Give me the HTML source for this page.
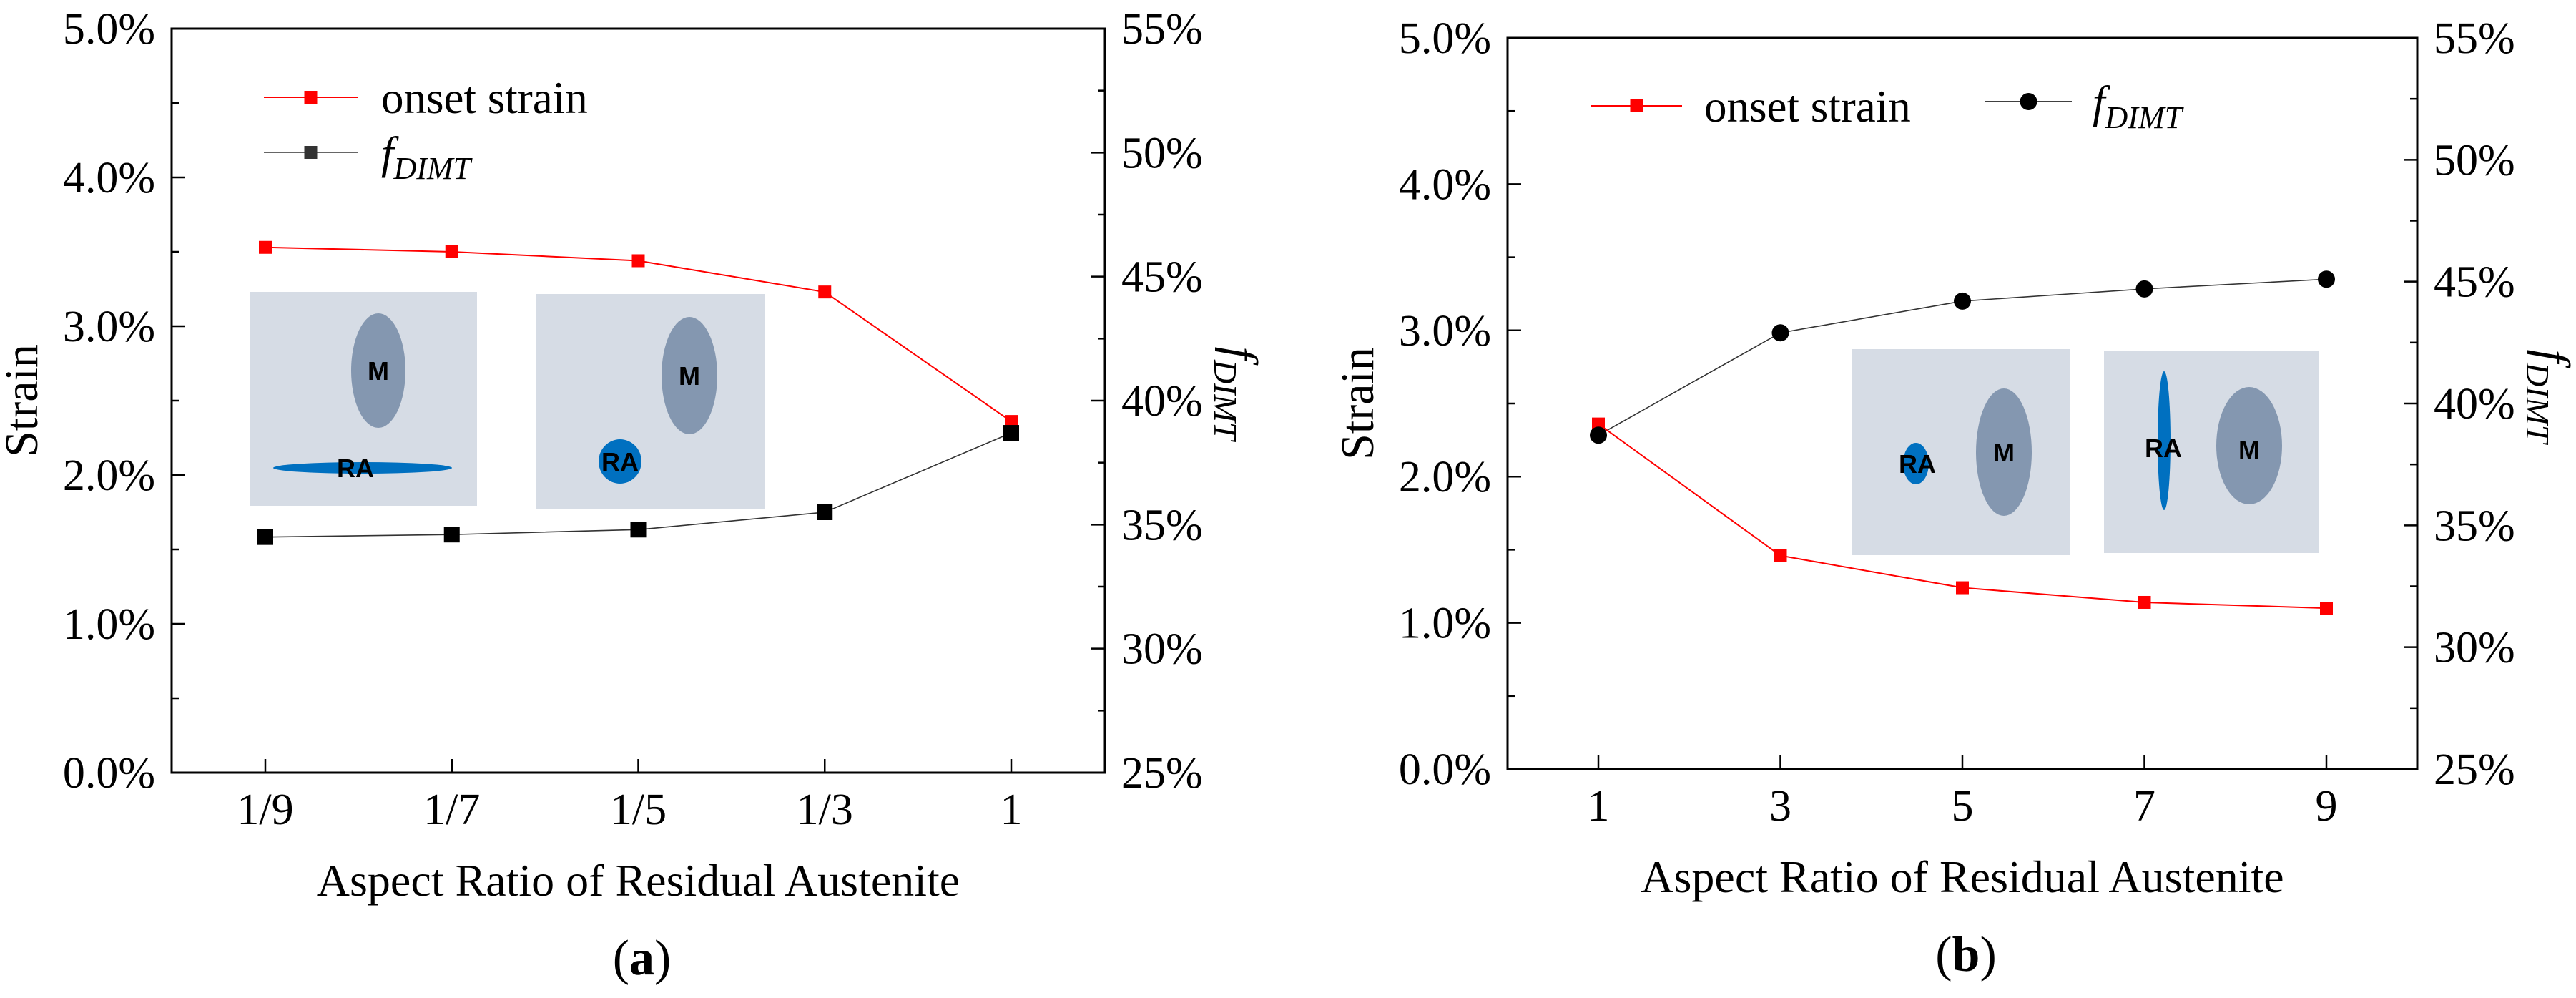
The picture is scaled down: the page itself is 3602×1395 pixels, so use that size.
<!DOCTYPE html>
<html><head><meta charset="utf-8"><style>
html,body{margin:0;padding:0;background:#fff}
svg{display:block}
text{font-family:"Liberation Serif",serif;fill:#000}
</style></head><body>
<svg id="c" width="3602" height="1395" viewBox="0 0 3602 1395" xmlns="http://www.w3.org/2000/svg"></svg>
<script>
const catsA = ["1/9","1/7","1/5","1/3","1"];
const strainA = [3.53, 3.50, 3.44, 3.23, 2.36];
const fA = [34.5, 34.6, 34.8, 35.5, 38.7];
const catsB = ["1","3","5","7","9"];
const strainB = [2.36, 1.46, 1.24, 1.14, 1.10];
const fB = [38.7, 42.9, 44.2, 44.7, 45.1];
const leftTicks = ["0.0%","1.0%","2.0%","3.0%","4.0%","5.0%"];
const rightTicks = ["25%","30%","35%","40%","45%","50%","55%"];

const NS="http://www.w3.org/2000/svg";
const svg=document.getElementById('c');
function mk(tag,attrs,parent){const e=document.createElementNS(NS,tag);for(const k in attrs)e.setAttribute(k,attrs[k]);(parent||svg).appendChild(e);return e;}

function panel(p){
  const g=mk('g',{});
  
  
  const yS=v=>p.bottom-(v/5)*(p.bottom-p.top);
  const yF=v=>p.bottom-((v-25)/30)*(p.bottom-p.top);
  const xS=i=>p.x0+i*(p.x4-p.x0)/4;
  const fr=mk('rect',{x:p.left,y:p.top,width:p.right-p.left,height:p.bottom-p.top,fill:'none',stroke:'#000','stroke-width':3},g);
  
  
  for(let k=0;k<=10;k++){const v=k*0.5,y=yS(v);mk('line',{x1:p.left,x2:p.left+(k%2?10:19),y1:y,y2:y,stroke:'#000','stroke-width':2.5},g);}
  leftTicks.forEach((t,i)=>{const e=mk('text',{x:p.left-23,y:yS(i)+21,'font-size':62,'text-anchor':'end'},g);e.textContent=t;
    
    });
  for(let k=0;k<=12;k++){const v=25+k*2.5,y=yF(v);mk('line',{x1:p.right,x2:p.right-(k%2?10:19),y1:y,y2:y,stroke:'#000','stroke-width':2.5},g);}
  rightTicks.forEach((t,i)=>{const e=mk('text',{x:p.right+23,y:yF(25+i*5)+21,'font-size':62,'text-anchor':'start'},g);e.textContent=t;
    
    });
  p.cats.forEach((c,i)=>{const x=xS(i);mk('line',{x1:x,x2:x,y1:p.bottom,y2:p.bottom-19,stroke:'#000','stroke-width':2.5},g);
    const e=mk('text',{x:x,y:p.bottom+72,'font-size':62,'text-anchor':'middle'},g);e.textContent=c;
    
    });
  p.insets.forEach(b=>{
    const r=mk('rect',{x:b.x,y:b.y,width:b.w,height:b.h,fill:'#d6dce5'},g);
    
    
    b.els.forEach(el=>{mk('ellipse',{cx:el.cx,cy:el.cy,rx:el.rx,ry:el.ry,fill:el.c},g);
      const t=mk('text',{x:el.tx,y:el.ty,'font-size':36,'font-weight':'bold','text-anchor':'middle',style:'font-family:"Liberation Sans",sans-serif'},g);t.textContent=el.l;
      
      });
  });
  const ptsF=p.f.map((v,i)=>xS(i)+','+yF(v)).join(' ');
  const lf=mk('polyline',{points:ptsF,fill:'none',stroke:'#333','stroke-width':1.6},g);
  
  
  const ptsS=p.s.map((v,i)=>xS(i)+','+yS(v)).join(' ');
  const ls=mk('polyline',{points:ptsS,fill:'none',stroke:'#f00','stroke-width':2},g);
  
  
  p.s.forEach((v,i)=>{const m=mk('rect',{x:xS(i)-9,y:yS(v)-9,width:18,height:18,fill:'#f00'},g);
    
    });
  p.f.forEach((v,i)=>{let m;if(p.circle)m=mk('circle',{cx:xS(i),cy:yF(v),r:12,fill:'#000'},g);else m=mk('rect',{x:xS(i)-11,y:yF(v)-11,width:22,height:22,fill:'#000'},g);
    
    });
  const st=mk('text',{x:0,y:0,'font-size':66,'text-anchor':'middle',transform:`translate(${p.left-188},${(p.top+p.bottom)/2}) rotate(-90)`},g);st.textContent='Strain';
  
  
  const ft=mk('text',{x:0,y:0,'font-size':66,'font-style':'italic','text-anchor':'middle',transform:`translate(${p.right+168},${(p.top+p.bottom)/2-10}) rotate(90)`},g);
  ft.innerHTML='f<tspan font-size="46" dy="15">DIMT</tspan>';
  
  
  const xt=mk('text',{x:(p.left+p.right)/2,y:p.bottom+172,'font-size':64,'text-anchor':'middle'},g);xt.textContent='Aspect Ratio of Residual Austenite';
  
  
  const lab=mk('text',{x:(p.left+p.right)/2+5,y:p.bottom+282,'font-size':70,'text-anchor':'middle'},g);
  lab.innerHTML='(<tspan font-weight="bold">'+p.tag+'</tspan>)';
  
  
  p.legend.forEach(L=>{
    const lg=mk('g',{},g);
    
    
    mk('line',{x1:L.x1,x2:L.x2,y1:L.y,y2:L.y,stroke:L.c,'stroke-width':L.c=='#f00'?2:1.6},lg);
    const mx=(L.x1+L.x2)/2;
    if(L.circ)mk('circle',{cx:mx,cy:L.y,r:12,fill:'#000'},lg);
    else mk('rect',{x:mx-9,y:L.y-9,width:18,height:18,fill:L.c},lg);
    const t=mk('text',{x:L.tx,y:L.y+22,'font-size':63},lg);
    if(L.f){t.setAttribute('font-style','italic');t.innerHTML='f<tspan font-size="44" dy="15">DIMT</tspan>';}
    else t.textContent='onset strain';
  });
}
panel({name:'panel-a',tag:'a',left:240,right:1545,top:40,bottom:1080,x0:371,x4:1414,cats:catsA,s:strainA,f:fA,circle:false,
  insets:[{x:350,y:408,w:317,h:299,els:[{cx:529,cy:518,rx:38,ry:80,c:'#8497b0',l:'M',tx:529,ty:531},{cx:507,cy:654,rx:125,ry:8,c:'#0070c0',l:'RA',tx:497,ty:667}]},
          {x:749,y:411,w:320,h:301,els:[{cx:964,cy:525,rx:39,ry:82,c:'#8497b0',l:'M',tx:964,ty:538},{cx:867,cy:645,rx:30,ry:31,c:'#0070c0',l:'RA',tx:867,ty:658}]}],
  legend:[{x1:369,x2:500,y:136,c:'#f00',tx:533},{x1:369,x2:500,y:213,c:'#333',tx:533,f:true}]});
panel({name:'panel-b',tag:'b',left:2108,right:3380,top:53,bottom:1075,x0:2235,x4:3253,cats:catsB,s:strainB,f:fB,circle:true,
  insets:[{x:2590,y:488,w:305,h:288,els:[{cx:2679,cy:648,rx:18,ry:29,c:'#0070c0',l:'RA',tx:2681,ty:661},{cx:2802,cy:632,rx:39,ry:89,c:'#8497b0',l:'M',tx:2802,ty:645}]},
          {x:2942,y:491,w:301,h:282,els:[{cx:3026,cy:616,rx:9,ry:97,c:'#0070c0',l:'RA',tx:3025,ty:639},{cx:3145,cy:623,rx:46,ry:82,c:'#8497b0',l:'M',tx:3145,ty:641}]}],
  legend:[{x1:2225,x2:2352,y:148,c:'#f00',tx:2383},{x1:2776,x2:2897,y:142,c:'#000',tx:2926,f:true,circ:true}]});
</script>
</body></html>
